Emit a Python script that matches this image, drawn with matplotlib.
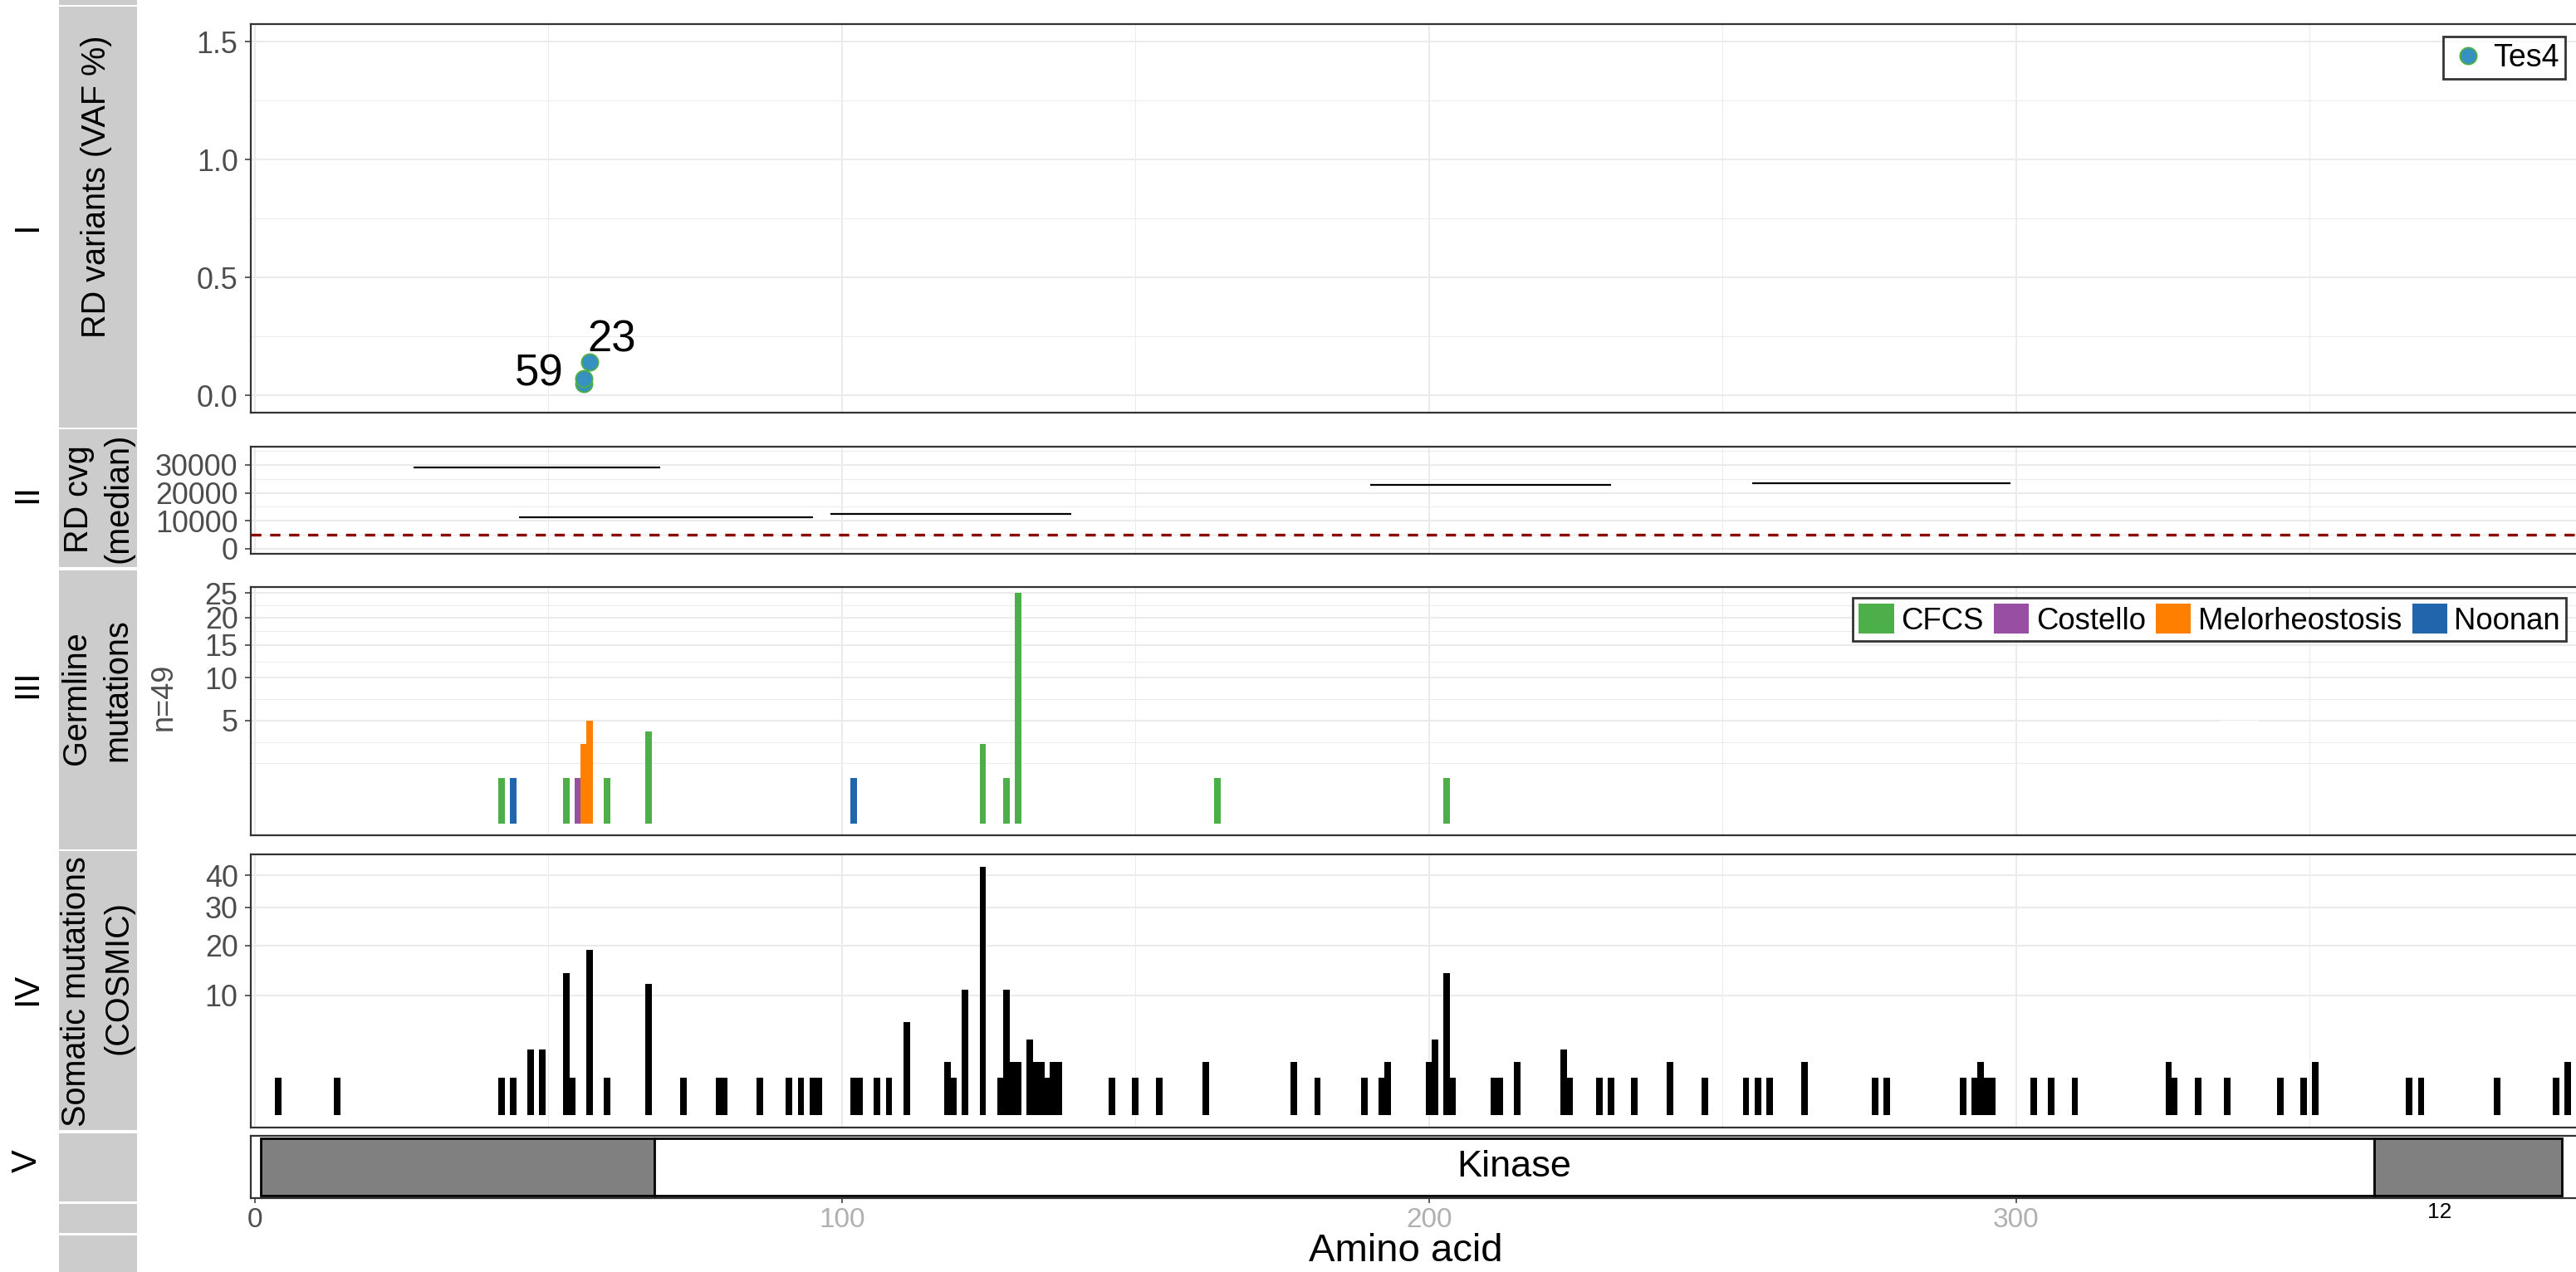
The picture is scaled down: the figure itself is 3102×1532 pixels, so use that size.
import numpy as np
import matplotlib
matplotlib.use("Agg")
import matplotlib.pyplot as plt
from matplotlib.patches import Rectangle, Patch
from matplotlib.lines import Line2D
from matplotlib.ticker import FixedLocator, FixedFormatter

plt.rcParams['font.family'] = ['Liberation Sans', 'DejaVu Sans']

# ---------------- data ----------------
# I: variant allele fractions of the sample
vaf_sample = "Tes4"
vaf_pos = [56, 56, 57]
vaf_pct = [0.05, 0.07, 0.14]
vaf_label_text = ["59", "23"]
vaf_label_x = [52.6, 56.7]
vaf_label_y = [0.09, 0.235]

# II: median read depth per amplicon
cvg_start = [27, 45, 98, 190, 255]
cvg_end = [69, 95, 139, 231, 299]
cvg_median = [29000, 11200, 12500, 23000, 23500]
cvg_threshold = 5000

# III: germline mutations
germ_pos = [42, 44, 53, 55, 56, 57, 60, 67, 102, 124, 128, 130, 164, 203]
germ_count = [1, 1, 1, 1, 3, 5, 1, 4, 1, 3, 1, 25, 1, 1]
germ_syndrome = ["CFCS", "Noonan", "CFCS", "Costello", "Melorheostosis",
                 "Melorheostosis", "CFCS", "CFCS", "Noonan", "CFCS", "CFCS",
                 "CFCS", "CFCS", "CFCS"]
syndromes = ["CFCS", "Costello", "Melorheostosis", "Noonan"]
syndrome_colors = ["#4DAF4A", "#984EA3", "#FF7F00", "#2166AC"]

# IV: somatic mutations (COSMIC)
som_pos = [4, 14, 42, 44, 47, 49, 53, 54, 57, 60, 67, 73, 79, 80, 86, 91, 93,
           95, 96, 102, 103, 106, 108, 111, 118, 119, 121, 124, 127, 128, 129,
           130, 132, 133, 134, 135, 136, 137, 146, 150, 154, 162, 177, 181,
           189, 192, 193, 200, 201, 203, 204, 211, 212, 215, 223, 224, 229,
           231, 235, 241, 247, 254, 256, 258, 264, 276, 278, 291, 293, 294,
           295, 296, 303, 306, 310, 326, 327, 331, 336, 345, 349, 351, 367,
           369, 382, 392, 394]
som_count = [1, 1, 1, 1, 3, 3, 14, 1, 19, 1, 12, 1, 1, 1, 1, 1, 1,
             1, 1, 1, 1, 1, 1, 6, 2, 1, 11, 43, 1, 11, 2,
             2, 4, 2, 2, 1, 2, 2, 1, 1, 1, 2, 2, 1,
             1, 1, 2, 2, 4, 14, 1, 1, 1, 2, 3, 1, 1,
             1, 1, 2, 1, 1, 1, 1, 2, 1, 1, 1, 1, 2,
             1, 1, 1, 1, 1, 2, 1, 1, 1, 1, 1, 2, 1,
             1, 1, 1, 2]

# V: protein domains
domain_start = [1, 68, 361]
domain_end = [68, 361, 393]
domain_label = ["", "Kinase", ""]
domain_is_named = [False, True, False]

panel_numerals = ["I", "II", "III", "IV", "V"]
x_ticks = [0, 100, 200, 300]

# ---------------- layout helpers ----------------
W, H, DPI = 3102, 1532, 100
fig = plt.figure(figsize=(W / DPI, H / DPI), dpi=DPI)
fig.patch.set_facecolor("white")

X0_PX, PX_PER_AA = 307.0, 7.069
AX_L, AX_R = 301.8, 3112.0
XLIM = ((AX_L - X0_PX) / PX_PER_AA, (AX_R - X0_PX) / PX_PER_AA)

BORDER = "#333333"
GRID = "#EBEBEB"
TICKLAB = "#4D4D4D"
TICK_FS = 25.8


def px_axes(top, bottom):
    return fig.add_axes([AX_L / W, 1 - bottom / H, (AX_R - AX_L) / W,
                         (bottom - top) / H])


def fig_rect(x0, y0, x1, y1, **kw):
    fig.add_artist(Rectangle((x0 / W, 1 - y1 / H), (x1 - x0) / W,
                             (y1 - y0) / H, transform=fig.transFigure, **kw))


def fig_text(x, y, s, **kw):
    fig.text(x / W, 1 - y / H, s, **kw)


def ssqrt(v):
    v = np.asarray(v, dtype=float)
    return np.sign(v) * np.sqrt(np.abs(v))


def ssq(v):
    v = np.asarray(v, dtype=float)
    return np.sign(v) * v ** 2


def gg_minor(majors_t, lim_t):
    """Minor breaks placed halfway between majors on the transformed scale."""
    b = list(majors_t)
    bd = b[1] - b[0]
    if lim_t[0] < b[0]:
        b = [b[0] - bd] + b
    if lim_t[1] > b[-1]:
        b = b + [b[-1] + bd]
    out = []
    for a, c in zip(b[:-1], b[1:]):
        out += [a, (a + c) / 2]
    out.append(b[-1])
    return [m for m in out if lim_t[0] <= m <= lim_t[1]]


def base_style(ax, grid=True):
    ax.set_xlim(*XLIM)
    for s in ["top", "bottom", "left", "right"]:
        ax.spines[s].set_color(BORDER)
        ax.spines[s].set_linewidth(1.6)
    ax.xaxis.set_major_locator(FixedLocator(x_ticks + [400]))
    ax.xaxis.set_minor_locator(FixedLocator([-50, 50, 150, 250, 350]))
    ax.tick_params(axis="x", which="both", length=0, labelbottom=False)
    ax.tick_params(axis="y", which="major", length=5, width=1.1,
                   color=BORDER, labelsize=TICK_FS, labelcolor=TICKLAB, pad=6)
    ax.tick_params(axis="y", which="minor", length=0)
    ax.set_axisbelow(True)
    if grid:
        ax.grid(True, which="major", color=GRID, lw=1.5)
        ax.grid(True, which="minor", color=GRID, lw=0.75)


# ---------------- facet strips ----------------
STRIP = "#CCCCCC"
strip_spans = [(0, 6), (8.3, 515), (517, 683.3), (686.7, 1023),
               (1025.4, 1361), (1364.8, 1447), (1449.7, 1485.2),
               (1487.6, 1532)]
for y0, y1 in strip_spans:
    fig_rect(70.5, y0, 165, y1, facecolor=STRIP, edgecolor="none")

strip_lines = [("RD variants (VAF %)", 116, 225),
               ("RD cvg", 95, 601), ("(median)", 142, 600),
               ("Germline", 92, 841), ("mutations", 141, 831),
               ("Somatic mutations", 92, 1194), ("(COSMIC)", 143, 1177)]
for s, x, y in strip_lines:
    fig_text(x, y, s, rotation=90, ha="center", va="center",
             fontsize=28.5, color="black")

numeral_y = [273, 594, 824, 1191, 1398]
for s, y in zip(panel_numerals, numeral_y):
    fig_text(33, y, s, rotation=90, ha="center", va="center",
             fontsize=30, color="black")

fig_text(197, 839, "n=49", rotation=90, ha="center", va="center",
         fontsize=26, color=TICKLAB)

# ---------------- panel I: variants ----------------
ax1 = px_axes(29.3, 496.7)
base_style(ax1)
ax1.set_ylim(-0.072, 1.573)
ax1.yaxis.set_major_locator(FixedLocator([0, 0.5, 1.0, 1.5]))
ax1.yaxis.set_major_formatter(FixedFormatter(["0.0", "0.5", "1.0", "1.5"]))
ax1.yaxis.set_minor_locator(FixedLocator([0.25, 0.75, 1.25]))
ax1.scatter(vaf_pos, vaf_pct, s=14.4 ** 2, facecolor="#3690C0",
            edgecolor="#4DAF4A", linewidth=1.4, zorder=3)
ax1.text(vaf_label_x[0], vaf_label_y[0], vaf_label_text[0], ha="right",
         va="center", fontsize=38, color="black")
ax1.text(vaf_label_x[1], vaf_label_y[1], vaf_label_text[1], ha="left",
         va="center", fontsize=38, color="black")
h_pt = Line2D([], [], ls="", marker="o", markersize=14.4,
              markerfacecolor="#3690C0", markeredgecolor="#4DAF4A",
              markeredgewidth=1.4)
leg1 = fig.legend([h_pt], [vaf_sample], loc="upper right",
                  bbox_to_anchor=(3089.3 / W, 1 - 44.3 / H),
                  bbox_transform=fig.transFigure, borderaxespad=0,
                  fontsize=27, frameon=True, fancybox=False, borderpad=0.2,
                  handlelength=1.2, handletextpad=0.21)
leg1.get_frame().set_edgecolor("black")
leg1.get_frame().set_linewidth(2.0)

# ---------------- panel II: coverage ----------------
ax2 = px_axes(537.7, 666.7)
base_style(ax2)
ax2.set_ylim(-1700, 36600)
ax2.yaxis.set_major_locator(FixedLocator([0, 10000, 20000, 30000]))
ax2.yaxis.set_major_formatter(FixedFormatter(["0", "10000", "20000", "30000"]))
ax2.yaxis.set_minor_locator(FixedLocator([5000, 15000, 25000, 35000]))
ax2.hlines(cvg_median, cvg_start, cvg_end, colors="black", lw=1.6, zorder=3)
ax2.axhline(cvg_threshold, color="#8B0000", lw=2.4, ls=(0, (3.7, 3.15)),
            zorder=3)

# ---------------- panel III: germline ----------------
ax3 = px_axes(706.7, 1006)
base_style(ax3)
ax3.set_yscale("function", functions=(ssqrt, ssq))
lim3_t = (-0.246, 5.137)
ax3.set_ylim(ssq(lim3_t[0]), ssq(lim3_t[1]))
maj3 = [5, 10, 15, 20, 25]
ax3.yaxis.set_major_locator(FixedLocator(maj3))
ax3.yaxis.set_major_formatter(FixedFormatter([str(v) for v in maj3]))
ax3.yaxis.set_minor_locator(
    FixedLocator(list(ssq(gg_minor(ssqrt(maj3), lim3_t)))))
col_of = dict(zip(syndromes, syndrome_colors))
ax3.bar(germ_pos, germ_count, width=1.1, bottom=0,
        color=[col_of[s] for s in germ_syndrome], linewidth=0, zorder=3)
# blank label box on the grid
ax3.add_patch(Rectangle(((2673 - X0_PX) / PX_PER_AA, 3.3),
                        (2720 - 2673) / PX_PER_AA, 1.7,
                        facecolor="white", edgecolor="none", zorder=1))
handles = [Patch(facecolor=c, edgecolor="none") for c in syndrome_colors]
leg3 = fig.legend(handles, syndromes, loc="upper right",
                  bbox_to_anchor=(3090 / W, 1 - 720 / H),
                  bbox_transform=fig.transFigure, borderaxespad=0, ncol=4,
                  fontsize=26.3, frameon=True, fancybox=False, borderpad=0.19,
                  handlelength=1.16, handleheight=1.16, handletextpad=0.23,
                  columnspacing=0.34)
leg3.get_frame().set_edgecolor("black")
leg3.get_frame().set_linewidth(2.0)

# ---------------- panel IV: somatic ----------------
ax4 = px_axes(1028.8, 1357.7)
base_style(ax4, grid=False)
ax4.grid(True, which="major", color=GRID, lw=1.5)
ax4.grid(True, which="minor", axis="x", color=GRID, lw=0.75)
ax4.set_yscale("function", functions=(ssqrt, ssq))
lim4_t = (-0.315, 6.88)
ax4.set_ylim(ssq(lim4_t[0]), ssq(lim4_t[1]))
maj4 = [10, 20, 30, 40]
ax4.yaxis.set_major_locator(FixedLocator(maj4))
ax4.yaxis.set_major_formatter(FixedFormatter([str(v) for v in maj4]))
ax4.bar(som_pos, som_count, width=1.1, bottom=0, color="black",
        linewidth=0, zorder=3)

# ---------------- panel V: domains ----------------
ax5 = px_axes(1367.5, 1442.8)
base_style(ax5, grid=False)
ax5.set_ylim(-0.035, 1.043)
ax5.set_yticks([])
for s, e, lab, named in zip(domain_start, domain_end, domain_label,
                            domain_is_named):
    ax5.add_patch(Rectangle((s, 0), e - s, 1,
                            facecolor="white" if named else "#808080",
                            edgecolor="black", lw=2.0, zorder=2))
    if lab:
        ax5.text((s + e) / 2, 0.5, lab, ha="center", va="center",
                 fontsize=32.5, color="black", zorder=3)
ax5.xaxis.set_major_locator(FixedLocator(x_ticks))
ax5.tick_params(axis="x", which="major", length=4.3, width=1.1,
                color=BORDER, labelbottom=True, labelsize=24,
                labelcolor="#B0B0B0", pad=4)
ax5.set_xticklabels([str(v) for v in x_ticks])
ax5.get_xticklabels()[0].set_color(TICKLAB)

fig_text(1693, 1507, "Amino acid", ha="center", va="center", fontsize=34,
         color="black")
fig_text(2938, 1460, "12", ha="center", va="center", fontsize=19,
         color="black")

fig.savefig("out.png", dpi=DPI, facecolor="white")
